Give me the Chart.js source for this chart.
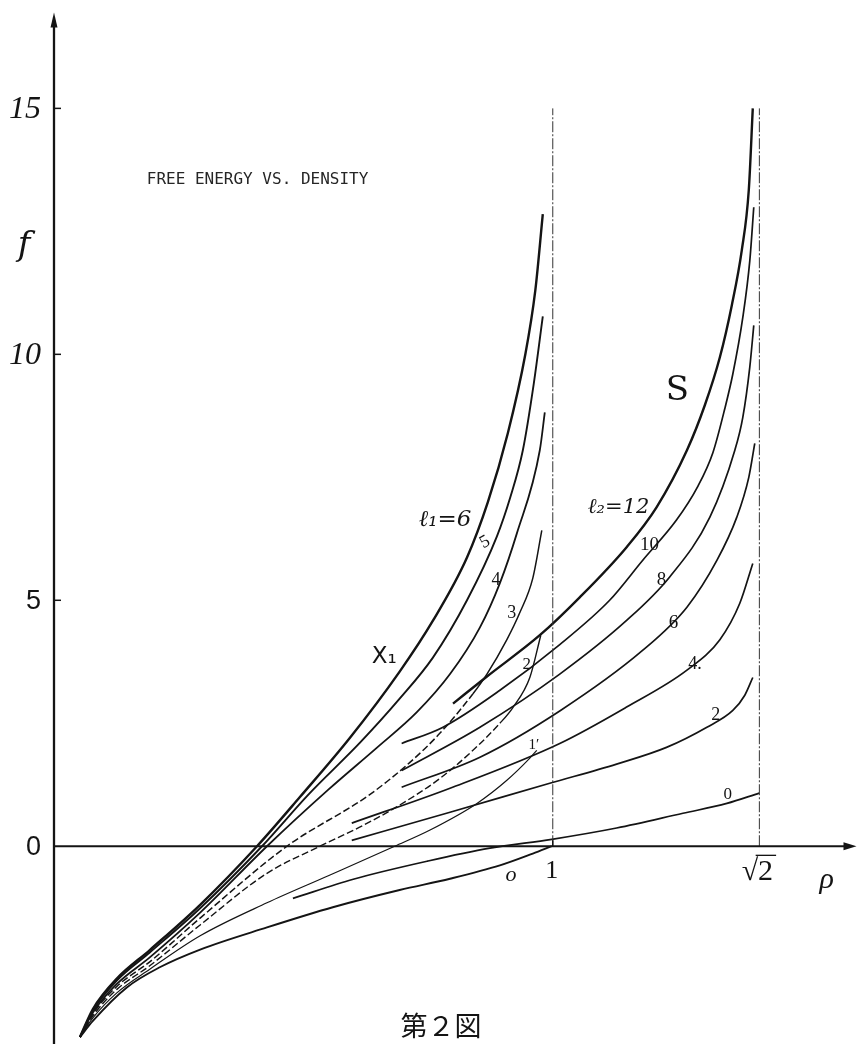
<!DOCTYPE html>
<html>
<head>
<meta charset="utf-8">
<script src="https://cdn.jsdelivr.net/npm/chart.js@4.4.1/dist/chart.umd.min.js"></script>
<style>
  html, body { margin: 0; padding: 0; background: #fff; }
</style>
</head>
<body>
<canvas id="fig" width="868" height="1044"></canvas>
<script>
/* ---- left family l1 (asymptote rho = 1) ---- */
const L1_6_RHO = [0.052, 0.078, 0.126, 0.192, 0.293, 0.407, 0.493, 0.593, 0.693, 0.760, 0.828, 0.870, 0.910, 0.945, 0.965, 0.980];
const L1_6_F   = [-3.88, -3.31, -2.69, -2.11, -1.19, 0, 1.00, 2.20, 3.55, 4.59, 5.87, 7.00, 8.40, 10.00, 11.30, 12.85];

const L1_5_RHO = [0.052, 0.078, 0.126, 0.192, 0.293, 0.417, 0.510, 0.613, 0.693, 0.760, 0.828, 0.888, 0.915, 0.940, 0.962, 0.980];
const L1_5_F   = [-3.88, -3.34, -2.73, -2.16, -1.26, 0, 1.05, 2.10, 3.00, 3.84, 5.00, 6.30, 7.10, 8.05, 9.41, 10.77];

const L1_4_RHO = [0.052, 0.078, 0.126, 0.192, 0.293, 0.427, 0.550, 0.647, 0.727, 0.794, 0.854, 0.894, 0.928, 0.974, 0.984];
const L1_4_F   = [-3.88, -3.38, -2.80, -2.26, -1.35, 0, 1.15, 2.00, 2.72, 3.50, 4.45, 5.35, 6.36, 8.05, 8.82];

const L1_3_RHO = [0.052, 0.078, 0.126, 0.192, 0.293, 0.467, 0.633, 0.713, 0.774, 0.840, 0.868, 0.908, 0.934, 0.960, 0.978];
const L1_3_F   = [-3.88, -3.41, -2.85, -2.35, -1.46, 0, 1.05, 1.70, 2.30, 3.10, 3.50, 4.20, 4.75, 5.45, 6.42];

const L1_2_RHO = [0.052, 0.078, 0.126, 0.192, 0.293, 0.427, 0.533, 0.619, 0.687, 0.774, 0.840, 0.894, 0.920, 0.954, 0.976];
const L1_2_F   = [-3.88, -3.45, -2.91, -2.43, -1.60, -0.55, 0, 0.42, 0.80, 1.38, 1.95, 2.50, 2.82, 3.43, 4.29];

const L1_1_RHO = [0.052, 0.078, 0.126, 0.192, 0.293, 0.427, 0.550, 0.683, 0.754, 0.848, 0.908, 0.954, 0.968];
const L1_1_F   = [-3.88, -3.49, -2.98, -2.50, -1.82, -1.15, -0.60, 0, 0.33, 0.87, 1.34, 1.79, 1.95];

const L1_0_RHO = [0.052, 0.078, 0.146, 0.212, 0.293, 0.427, 0.559, 0.693, 0.794, 0.894, 0.960, 0.998];
const L1_0_F   = [-3.88, -3.55, -2.87, -2.46, -2.10, -1.65, -1.24, -0.89, -0.66, -0.39, -0.15, 0];

/* ---- right family l2 (asymptote rho = sqrt 2) ---- */
const L2_12_RHO = [0.800, 0.868, 0.974, 1.054, 1.148, 1.208, 1.269, 1.305, 1.335, 1.359, 1.379, 1.393, 1.401];
const L2_12_F   = [2.90, 3.45, 4.29, 5.06, 6.08, 6.89, 8.05, 8.97, 9.94, 11.00, 12.12, 13.34, 15.00];

const L2_10_RHO = [0.697, 0.780, 0.894, 1.014, 1.114, 1.180, 1.248, 1.290, 1.321, 1.345, 1.361, 1.381, 1.395, 1.403];
const L2_10_F   = [2.09, 2.42, 3.17, 4.10, 5.00, 5.81, 6.63, 7.30, 8.00, 8.90, 9.60, 10.75, 11.90, 12.99];

const L2_8_RHO = [0.697, 0.854, 1.014, 1.148, 1.234, 1.315, 1.365, 1.381, 1.395, 1.403];
const L2_8_F   = [1.54, 2.42, 3.50, 4.59, 5.47, 6.69, 8.05, 8.72, 9.74, 10.59];

const L2_6_RHO = [0.697, 0.854, 1.014, 1.180, 1.269, 1.329, 1.369, 1.393, 1.405];
const L2_6_F   = [1.20, 1.81, 2.75, 3.98, 4.86, 5.81, 6.69, 7.50, 8.19];

const L2_4_RHO = [0.597, 0.794, 1.014, 1.148, 1.269, 1.335, 1.375, 1.401];
const L2_4_F   = [0.47, 1.18, 2.09, 2.83, 3.58, 4.20, 4.94, 5.75];

const L2_2_RHO = [0.597, 0.794, 0.994, 1.128, 1.228, 1.309, 1.361, 1.385, 1.401];
const L2_2_F   = [0.12, 0.69, 1.28, 1.67, 2.01, 2.42, 2.76, 3.07, 3.43];

const L2_0_RHO = [0.479, 0.600, 0.750, 0.874, 0.998, 1.128, 1.261, 1.349, 1.414];
const L2_0_F   = [-1.06, -0.67, -0.30, -0.04, 0.14, 0.37, 0.67, 0.87, 1.08];

/* ---- axes ---- */
const Y_TICKS = [15, 10, 5, 0];
const Y_TICK_TEXT = ['15', '10', '5', '0'];
const GUIDE_RHO = [1, Math.SQRT2];
const GUIDE_TOP = 15;

const INK = '#141414';

function pts(rho, f) {
    return rho.map((r, i) => ({x: r, y: f[i]}));
}

// dashed below a given rho (the lower, metastable part of the curve)
function dashBelow(limit) {
    return { borderDash: c => (c.p1.parsed.x <= limit ? [7, 3] : undefined) };
}

function curve(label, rho, f, width, seg) {
    const ds = {
        label: label,
        data: pts(rho, f),
        showLine: true,
        borderColor: INK,
        borderWidth: width,
        pointRadius: 0,
        cubicInterpolationMode: 'monotone'
    };
    if (seg) ds.segment = seg;
    return ds;
}

const datasets = [];

// vertical guides at rho = 1 and rho = sqrt 2
GUIDE_RHO.forEach(g => {
    datasets.push({
        label: 'guide ' + g,
        data: [{x: g, y: 0}, {x: g, y: GUIDE_TOP}],
        showLine: true,
        borderColor: '#333',
        borderWidth: 1,
        borderDash: [11, 2, 2, 2],
        pointRadius: 0
    });
});

datasets.push(curve('l1=6', L1_6_RHO, L1_6_F, 2.4));
datasets.push(curve('l1=5', L1_5_RHO, L1_5_F, 1.9));
datasets.push(curve('l1=4', L1_4_RHO, L1_4_F, 1.8));
datasets.push(curve('l1=3', L1_3_RHO, L1_3_F, 1.5, dashBelow(0.845)));
datasets.push(curve('l1=2', L1_2_RHO, L1_2_F, 1.4, dashBelow(0.90)));
datasets.push(curve('l1=1', L1_1_RHO, L1_1_F, 1.2));
datasets.push(curve('l1=0', L1_0_RHO, L1_0_F, 1.9));

datasets.push(curve('l2=12', L2_12_RHO, L2_12_F, 2.4));
datasets.push(curve('l2=10', L2_10_RHO, L2_10_F, 1.7));
datasets.push(curve('l2=8', L2_8_RHO, L2_8_F, 1.7));
datasets.push(curve('l2=6', L2_6_RHO, L2_6_F, 1.7));
datasets.push(curve('l2=4', L2_4_RHO, L2_4_F, 1.7));
datasets.push(curve('l2=2', L2_2_RHO, L2_2_F, 1.7));
datasets.push(curve('l2=0', L2_0_RHO, L2_0_F, 1.7));

/* labels, placed in data coordinates */
const SERIF = '"Liberation Serif", "DejaVu Serif", serif';
const LABELS = [
    {t: 'FREE ENERGY VS. DENSITY', x: 0.186, y: 13.54, font: '16px "DejaVu Sans Mono", monospace', align: 'left', color: '#262626'},
    {t: 'f', x: -0.060, y: 12.2, font: 'italic 34px "DejaVu Serif", serif'},
    {t: 'S', x: 1.250, y: 9.25, font: '34px "DejaVu Serif", serif'},
    {t: 'X₁', x: 0.662, y: 3.85, font: '23px "DejaVu Sans", sans-serif'},
    {t: 'ℓ₁=6', x: 0.784, y: 6.63, font: 'italic 23px "DejaVu Serif", serif'},
    {t: '5', x: 0.864, y: 6.18, font: '18px ' + SERIF, rot: -0.5},
    {t: '4', x: 0.886, y: 5.41, font: '18px ' + SERIF},
    {t: '3', x: 0.918, y: 4.74, font: '18px ' + SERIF},
    {t: '2', x: 0.948, y: 3.70, font: '17px ' + SERIF},
    {t: '1′', x: 0.962, y: 2.05, font: '15px ' + SERIF},
    {t: 'ℓ₂=12', x: 1.132, y: 6.89, font: 'italic 21px "DejaVu Serif", serif'},
    {t: '10', x: 1.194, y: 6.12, font: '19px ' + SERIF},
    {t: '8', x: 1.218, y: 5.41, font: '19px ' + SERIF},
    {t: '6', x: 1.242, y: 4.53, font: '19px ' + SERIF},
    {t: '4.', x: 1.285, y: 3.70, font: '18px ' + SERIF},
    {t: '2', x: 1.327, y: 2.66, font: '18px ' + SERIF},
    {t: '0', x: 1.351, y: 1.06, font: '17px ' + SERIF},
    {t: 'o', x: 0.916, y: -0.59, font: 'italic 22px ' + SERIF},
    {t: '1', x: 0.998, y: -0.51, font: '26px ' + SERIF},
    {t: 'ρ', x: 1.549, y: -0.68, font: 'italic 30px ' + SERIF},
    {t: '第２図', x: 0.776, y: -3.64, font: '27px "Noto Sans CJK JP", sans-serif'}
];
const TICK_FONTS = ['italic 32px ' + SERIF, 'italic 32px ' + SERIF, '27px "Liberation Sans", sans-serif', '27px "Liberation Sans", sans-serif'];

const X_ARROW = 1.609;
const Y_ARROW = 16.95;

const sketch = {
    id: 'sketch',
    afterDatasetsDraw(chart) {
        const ctx = chart.ctx;
        const X = v => chart.scales.x.getPixelForValue(v);
        const Y = v => chart.scales.y.getPixelForValue(v);
        ctx.save();
        ctx.strokeStyle = INK;
        ctx.fillStyle = INK;
        ctx.setLineDash([]);

        // y axis with arrow
        const ax = X(0), ay = Y(Y_ARROW);
        ctx.lineWidth = 2.3;
        ctx.beginPath();
        ctx.moveTo(ax, chart.height);
        ctx.lineTo(ax, ay + 8);
        ctx.stroke();
        ctx.beginPath();
        ctx.moveTo(ax, ay);
        ctx.lineTo(ax - 3.5, ay + 15);
        ctx.lineTo(ax + 3.5, ay + 15);
        ctx.closePath();
        ctx.fill();

        // x axis with arrow
        const bx = X(X_ARROW), by = Y(0);
        ctx.lineWidth = 1.9;
        ctx.beginPath();
        ctx.moveTo(ax, by);
        ctx.lineTo(bx - 8, by);
        ctx.stroke();
        ctx.beginPath();
        ctx.moveTo(bx, by);
        ctx.lineTo(bx - 13, by - 4);
        ctx.lineTo(bx - 13, by + 4);
        ctx.closePath();
        ctx.fill();

        // small ticks on the f axis and at rho = 1
        ctx.lineWidth = 1.5;
        Y_TICKS.forEach(v => {
            if (v === 0) return;
            ctx.beginPath();
            ctx.moveTo(ax, Y(v));
            ctx.lineTo(ax + 7, Y(v));
            ctx.stroke();
        });
        ctx.beginPath();
        ctx.moveTo(X(1), by);
        ctx.lineTo(X(1), by - 6);
        ctx.stroke();

        // tick labels
        ctx.textBaseline = 'middle';
        ctx.textAlign = 'right';
        Y_TICKS.forEach((v, i) => {
            ctx.font = TICK_FONTS[i];
            ctx.fillText(Y_TICK_TEXT[i], ax - 13, Y(v) + 1);
        });

        // sqrt 2 label with its bar
        const sx = X(Math.SQRT2), sy = Y(-0.51);
        ctx.font = '30px ' + SERIF;
        ctx.textAlign = 'center';
        ctx.fillText('√2', sx - 2, sy + 1);
        const w = ctx.measureText('√2').width;
        ctx.lineWidth = 1.3;
        ctx.beginPath();
        ctx.moveTo(sx - 2 - w / 2 + 14, sy - 16);
        ctx.lineTo(sx - 2 + w / 2 + 3, sy - 16);
        ctx.stroke();

        // all other labels
        LABELS.forEach(l => {
            ctx.save();
            ctx.font = l.font;
            ctx.fillStyle = l.color || INK;
            ctx.textAlign = l.align || 'center';
            ctx.textBaseline = 'middle';
            ctx.translate(X(l.x), Y(l.y));
            if (l.rot) ctx.rotate(l.rot);
            ctx.fillText(l.t, 0, 0);
            ctx.restore();
        });
        ctx.restore();
    }
};

new Chart(document.getElementById('fig'), {
    type: 'scatter',
    data: { datasets: datasets },
    options: {
        responsive: false,
        animation: false,
        devicePixelRatio: 1,
        layout: { padding: { left: 54, right: 1, top: 10, bottom: 1 } },
        plugins: { legend: { display: false }, tooltip: { enabled: false } },
        scales: {
            x: { type: 'linear', min: 0, max: 1.63, display: false },
            y: { type: 'linear', min: -4, max: 17, display: false }
        }
    },
    plugins: [sketch]
});
</script>
</body>
</html>
